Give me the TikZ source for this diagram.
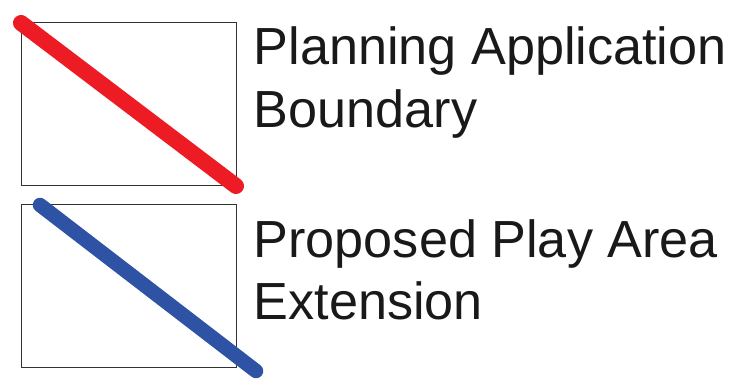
\documentclass[tikz,border=0pt]{standalone}
\usepackage{fontspec}
\setmainfont{Liberation Sans}
\definecolor{bndred}{HTML}{ED1C24}
\definecolor{playblue}{HTML}{2E53A4}
\tikzset{
  keybox/.style={draw=black!80, line width=1pt},
  redline/.style={draw=bndred, line width=16pt, line cap=round},
  blueline/.style={draw=playblue, line width=14.5pt, line cap=round},
  lbl/.style={anchor=base west, inner sep=0pt, font=\fontsize{52.2pt}{63pt}\selectfont, text=black!90}
}
\begin{document}
\begin{tikzpicture}[x=1pt,y=-1pt]
\useasboundingbox (0,0) rectangle (741,382);
\draw[keybox] (21,22.5) rectangle (236,186);
\coordinate (r1) at (21,23);
\coordinate (r2) at (236,186);
\draw[redline] (r1) -- (r2);
\draw[keybox] (21,204) rectangle (236,367.5);
\coordinate (b1) at (40,205);
\coordinate (b2) at (256,371);
\draw[blueline] (b1) -- (b2);
\node[lbl] (t1) at (253.5,65) {Planning Application};
\node[lbl] (t2) at (253.5,128) {Boundary};
\node[lbl] (t3) at (253.5,257) {Proposed Play Area};
\node[lbl] (t4) at (253.5,319) {Extension};
\end{tikzpicture}
\end{document}
